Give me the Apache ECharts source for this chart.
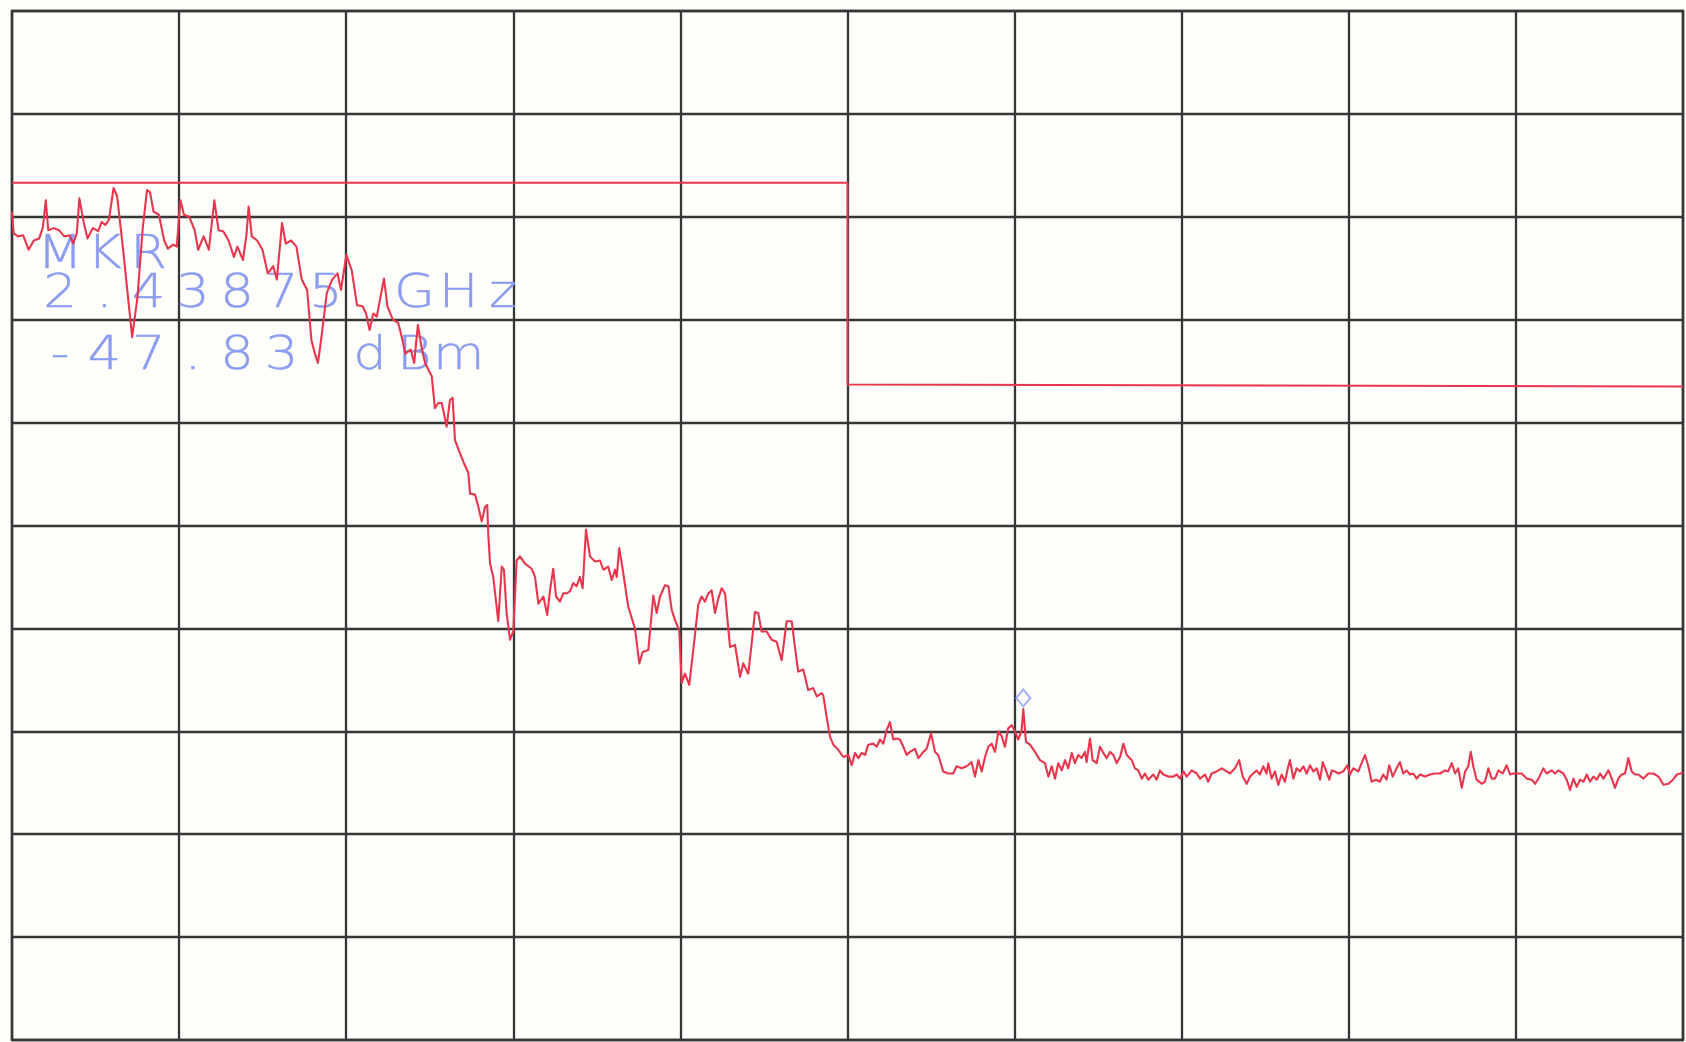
<!DOCTYPE html>
<html>
<head>
<meta charset="utf-8">
<script src="https://cdn.jsdelivr.net/npm/echarts@6/dist/echarts.min.js"></script>
<style>
html,body{margin:0;padding:0;background:#fefefa;}
#chart{width:1686px;height:1042px;}
</style>
</head>
<body>
<div id="chart"></div>
<script>
// x: horizontal graticule divisions (0..10), y: level in dBm (10 dB/div, ref +20 dBm)
const trace = [
[0,0.5],[0.010,-1.6],[0.035,-1.9],[0.067,-1.8],[0.099,-3.2],[0.131,-2.3],[0.163,-2.1],[0.185,-1.0],[0.202,1.6],[0.217,-1.3],
[0.249,-1.1],[0.281,-1.3],[0.313,-1.9],[0.345,-1.8],[0.366,-2.6],[0.388,-1.6],[0.403,1.8],[0.430,-0.6],[0.452,-2.1],[0.484,-1.1],
[0.516,-1.4],[0.537,-0.5],[0.559,-0.8],[0.580,-0.3],[0.608,2.8],[0.629,2.0],[0.665,-3.2],[0.719,-11.7],[0.751,-7.8],[0.783,-1.0],
[0.808,2.6],[0.826,2.4],[0.847,0.5],[0.879,0.2],[0.911,-2.3],[0.933,-3.1],[0.965,-2.7],[0.986,-2.9],[1.008,1.6],[1.029,0.2],
[1.061,0.0],[1.093,-1.3],[1.114,-3.2],[1.147,-1.9],[1.178,-3.2],[1.211,1.6],[1.236,-1.3],[1.264,-1.4],[1.296,-2.3],[1.328,-3.9],
[1.349,-2.9],[1.382,-4.2],[1.403,-1.8],[1.416,1.0],[1.435,-1.9],[1.467,-2.3],[1.499,-3.2],[1.531,-5.5],[1.563,-4.8],[1.585,-6.1],
[1.616,-0.6],[1.638,-2.6],[1.670,-2.3],[1.702,-2.9],[1.734,-6.1],[1.766,-7.1],[1.792,-12.0],[1.813,-13.3],[1.831,-14.2],[1.852,-11.7],
[1.884,-7.4],[1.916,-6.1],[1.948,-5.5],[1.969,-7.1],[2.001,-3.7],[2.033,-5.2],[2.065,-8.6],[2.098,-8.7],[2.119,-9.4],[2.140,-11.0],
[2.162,-9.4],[2.183,-9.7],[2.226,-6.0],[2.247,-8.7],[2.279,-10.0],[2.311,-10.3],[2.333,-11.7],[2.354,-13.3],[2.386,-12.9],[2.407,-14.2],
[2.429,-10.5],[2.450,-12.6],[2.472,-14.2],
[2.512,-15.5],[2.531,-18.6],[2.551,-18.1],[2.572,-18.1],[2.601,-20.4],[2.621,-17.8],[2.637,-17.6],[2.651,-21.7],[2.681,-23.0],[2.701,-23.8],
[2.731,-24.9],[2.741,-26.9],[2.771,-27.0],[2.791,-28.2],[2.811,-29.6],[2.831,-28.2],[2.844,-28.0],[2.850,-30.8],[2.861,-33.7],[2.880,-35.0],
[2.910,-39.3],[2.931,-34.0],[2.944,-34.3],[2.960,-38.5],[2.980,-41.1],[3.000,-40.3],[3.020,-33.4],[3.040,-33.0],[3.070,-33.7],[3.110,-34.2],
[3.130,-35.0],[3.150,-37.6],[3.180,-36.9],[3.203,-38.7],[3.220,-36.3],[3.239,-34.2],[3.256,-36.9],[3.279,-37.4],[3.299,-36.6],[3.319,-36.6],
[3.339,-36.4],[3.359,-35.6],[3.379,-35.9],[3.399,-35.0],[3.415,-36.1],[3.435,-30.4],[3.459,-33.0],[3.489,-33.5],[3.519,-33.4],[3.539,-34.3],
[3.568,-34.0],[3.589,-35.3],[3.609,-34.3],[3.619,-35.0],[3.634,-32.2],[3.655,-34.3],[3.688,-37.9],[3.728,-40.0],[3.754,-43.4],[3.774,-42.3],
[3.808,-42.1],[3.838,-36.8],[3.858,-38.5],[3.878,-36.9],[3.908,-35.8],[3.928,-35.9],[3.948,-38.2],[3.968,-39.2],[3.993,-40.2],[4.008,-45.3],
[4.027,-44.4],[4.053,-45.5],[4.077,-42.1],[4.107,-37.7],[4.127,-36.9],[4.147,-37.4],[4.167,-36.6],[4.187,-36.3],[4.207,-38.5],[4.227,-37.1],
[4.247,-36.1],[4.267,-36.6],[4.297,-41.8],[4.327,-41.6],[4.357,-44.7],[4.376,-43.4],[4.406,-44.4],[4.427,-41.4],[4.446,-38.4],[4.466,-38.5],
[4.486,-40.3],[4.516,-40.3],[4.546,-41.1],[4.576,-41.3],[4.606,-43.1],[4.636,-39.3],[4.666,-39.3],[4.686,-41.9],[4.705,-44.2],[4.735,-44.0],
[4.765,-46.0],[4.795,-45.8],[4.816,-46.6],[4.846,-46.3],
[4.855,-46.5],[4.875,-48.6],[4.895,-50.5],[4.915,-51.3],[4.945,-51.8],[4.975,-52.5],[5.005,-52.3],[5.025,-53.3],[5.045,-52.1],[5.065,-52.6],
[5.085,-52.1],[5.105,-52.3],[5.124,-51.3],[5.154,-51.2],[5.175,-51.5],[5.194,-50.8],[5.214,-51.2],[5.234,-49.9],[5.254,-49.1],[5.274,-50.8],
[5.294,-50.7],[5.314,-50.8],[5.334,-51.5],[5.354,-52.3],[5.374,-52.0],[5.404,-51.7],[5.424,-52.6],[5.454,-52.0],[5.474,-51.7],[5.500,-50.2],
[5.524,-52.0],[5.543,-52.3],[5.573,-53.9],[5.603,-54.1],[5.633,-54.1],[5.653,-53.4],[5.683,-53.6],[5.713,-53.4],[5.743,-53.0],[5.763,-54.4],
[5.783,-52.8],[5.803,-53.9],[5.823,-52.5],[5.843,-51.5],[5.863,-51.2],[5.883,-52.0],[5.903,-50.0],[5.923,-50.5],[5.942,-51.5],[5.962,-49.7],
[5.983,-49.4],[6.002,-50.0],[6.022,-50.8],[6.042,-49.9],[6.052,-47.83],[6.068,-51.0],[6.092,-51.3],[6.122,-52.0],[6.152,-52.8],[6.182,-53.1],
[6.202,-54.4],[6.222,-53.4],[6.242,-54.6],[6.261,-53.1],[6.282,-53.8],[6.302,-52.8],[6.321,-53.6],[6.342,-52.1],[6.361,-53.1],[6.381,-52.3],
[6.401,-52.6],[6.421,-52.0],[6.431,-53.0],[6.451,-50.7],[6.467,-52.8],[6.491,-53.1],[6.511,-51.5],[6.531,-52.1],[6.551,-52.6],[6.571,-52.0],
[6.591,-52.3],[6.611,-53.1],[6.631,-52.5],[6.651,-51.2],[6.671,-52.3],[6.701,-52.8],[6.720,-53.6],[6.740,-53.8],[6.761,-54.6],[6.780,-54.1],
[6.800,-54.7],[6.830,-54.2],[6.850,-54.7],[6.870,-53.8],[6.890,-54.2],[6.920,-54.4],[6.950,-54.4],[6.970,-54.2],[6.990,-54.6],[7.010,-53.9],
[7.030,-54.4],[7.060,-53.8],[7.090,-54.1],[7.110,-54.6],[7.139,-54.2],[7.159,-54.9],[7.179,-54.1],[7.209,-53.9],[7.239,-53.6],[7.259,-53.8],
[7.289,-54.1],[7.319,-53.6],[7.344,-52.8],[7.365,-54.4],[7.389,-55.1],
[7.409,-54.4],[7.428,-54.1],[7.448,-53.8],[7.468,-54.2],[7.488,-53.4],[7.508,-54.1],[7.518,-53.1],[7.538,-54.6],[7.558,-53.9],[7.578,-55.2],
[7.598,-54.2],[7.618,-54.9],[7.632,-53.8],[7.648,-52.8],[7.668,-54.6],[7.688,-53.6],[7.708,-53.9],[7.728,-53.4],[7.748,-54.1],[7.768,-53.3],
[7.788,-53.9],[7.808,-53.6],[7.828,-54.7],[7.844,-53.0],[7.863,-53.8],[7.883,-54.7],[7.898,-53.8],[7.917,-53.9],[7.937,-54.1],[7.967,-53.9],
[7.991,-53.3],[8.007,-54.2],[8.027,-53.6],[8.057,-53.9],[8.077,-53.1],[8.097,-52.3],[8.117,-53.4],[8.137,-54.9],[8.162,-54.7],[8.186,-54.9],
[8.206,-54.2],[8.226,-54.7],[8.242,-53.3],[8.263,-54.4],[8.286,-53.6],[8.306,-53.0],[8.326,-54.1],[8.346,-53.8],[8.366,-54.2],[8.386,-54.1],
[8.406,-54.6],[8.426,-54.2],[8.456,-54.4],[8.486,-54.2],[8.516,-54.1],[8.546,-54.1],[8.576,-53.8],[8.595,-53.9],[8.616,-53.1],[8.636,-54.1],
[8.655,-53.6],[8.676,-55.5],[8.696,-53.9],[8.715,-53.4],[8.730,-52.0],[8.745,-53.4],[8.765,-54.7],[8.795,-55.1],[8.815,-54.9],[8.835,-53.6],
[8.855,-54.6],[8.875,-54.6],[8.895,-53.8],[8.921,-54.1],[8.945,-53.3],[8.965,-54.2],[8.985,-54.1],[9.005,-54.1],[9.035,-54.1],[9.065,-54.6],
[9.095,-54.7],[9.115,-55.1],[9.135,-54.6],[9.164,-53.6],[9.184,-54.1],[9.214,-53.8],[9.234,-54.1],[9.254,-53.8],[9.284,-54.1],[9.304,-54.7],
[9.324,-55.7],[9.344,-54.6],[9.364,-55.4],[9.384,-54.7],[9.404,-54.9],[9.424,-54.2],[9.444,-54.9],[9.464,-54.4],[9.484,-54.7],[9.504,-54.1],
[9.524,-54.6],[9.554,-53.8],[9.574,-54.6],[9.593,-55.5],[9.613,-54.6],[9.633,-54.2],[9.653,-54.1],[9.673,-52.6],[9.693,-53.9],[9.713,-54.2],
[9.733,-54.2],[9.763,-54.6],[9.793,-54.1],[9.823,-54.1],[9.853,-54.4],[9.883,-55.2],[9.913,-55.1],[9.940,-54.7],[9.964,-54.2],[9.984,-54.1],
[10.0,-54.0]
];
const limitLine = [[0,3.3],[5,3.3],[5,-16.3],[10,-16.5]];
const markerPoint = [6.052,-47.83];
const markerText = ['MKR','2.43875 GHz','-47.83 dBm'];
const xTicks = {min:0, max:10, step:1};
const yTicks = {min:-80, max:20, step:10};

const RED = '#e8364f';
const BLUE = '#8c9cf0';
const GRIDC = '#363636';

// per-character placement of the plotter-style annotation
const lineY = [256, 295, 357];
const graphicEls = [];
markerText.forEach((s, li) => {
  for (let i = 0; i < s.length; i++) {
    if (s[i] === ' ') continue;
    graphicEls.push({
      type: 'text', x: 60 + i * 44.3, y: lineY[li], scaleX: 1.15, z: 1, silent: true,
      style: { text: s[i], fill: BLUE, stroke: BLUE, lineWidth: 0.4, font: '200 46px "DejaVu Sans"', align: 'center', verticalAlign: 'middle' }
    });
  }
});

const chart = echarts.init(document.getElementById('chart'), null, {renderer: 'canvas'});
chart.setOption({
  backgroundColor: '#fefefa',
  animation: false,
  grid: {left: 12, right: 3, top: 11, bottom: 2, show: true, borderColor: GRIDC, borderWidth: 2.5, backgroundColor: 'transparent'},
  xAxis: {
    type: 'value', min: xTicks.min, max: xTicks.max, interval: xTicks.step,
    axisLine: {show: false}, axisTick: {show: false}, axisLabel: {show: false},
    splitLine: {show: true, lineStyle: {color: GRIDC, width: 2.3}}
  },
  yAxis: {
    type: 'value', min: yTicks.min, max: yTicks.max, interval: yTicks.step,
    axisLine: {show: false}, axisTick: {show: false}, axisLabel: {show: false},
    splitLine: {show: true, lineStyle: {color: GRIDC, width: 2.3}}
  },
  graphic: graphicEls,
  series: [
    {type: 'line', data: limitLine, showSymbol: false, z: 3, lineStyle: {color: RED, width: 2}},
    {type: 'line', data: trace, showSymbol: false, z: 4, lineStyle: {color: RED, width: 2.1, join: 'round'}},
    {type: 'scatter', data: [markerPoint], symbol: 'diamond', symbolSize: [14, 17], symbolOffset: [0, -11], z: 5,
     itemStyle: {color: 'rgba(0,0,0,0)', borderColor: BLUE, borderWidth: 2}}
  ]
});
</script>
</body>
</html>
